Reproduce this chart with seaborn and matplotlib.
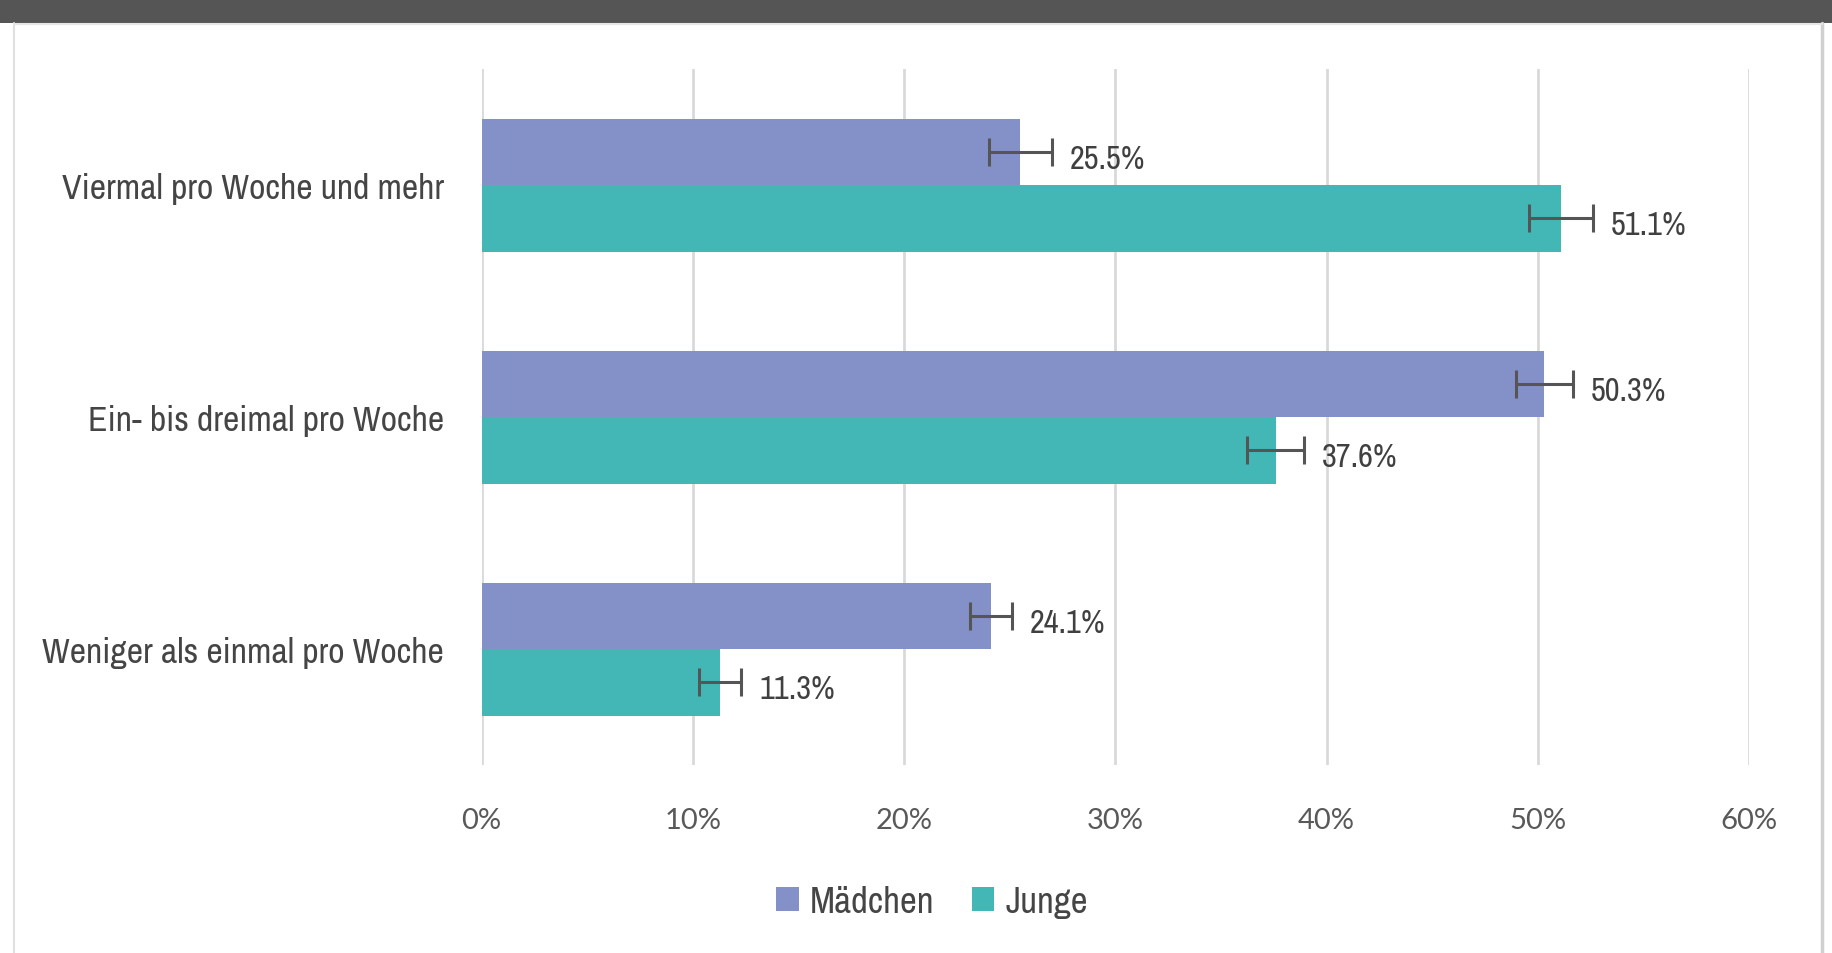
import matplotlib
matplotlib.use("Agg")
import matplotlib.pyplot as plt
from matplotlib import font_manager
from matplotlib.textpath import TextPath
from matplotlib.font_manager import FontProperties
import seaborn as sns
import pandas as pd
from matplotlib.patches import Rectangle, Patch
from matplotlib.lines import Line2D

categories = ["Viermal pro Woche und mehr", "Ein- bis dreimal pro Woche", "Weniger als einmal pro Woche"]
groups = ["Mädchen", "Junge"]
maedchen = [25.5, 50.3, 24.1]
junge = [51.1, 37.6, 11.3]
maedchen_err = [1.5, 1.35, 1.0]
junge_err = [1.5, 1.35, 1.0]
xticks = [0, 10, 20, 30, 40, 50, 60]
colors = {"Mädchen": "#8391C8", "Junge": "#43B7B5"}

entries = font_manager.fontManager.ttflist
cond = [f.name for f in entries if ("Condensed" in f.name or "Narrow" in f.name)]
main_font = sorted(cond)[0] if cond else "Lato"

sns.set_theme(style="white")
plt.rcParams['font.family'] = [main_font, 'DejaVu Sans']


def fit_size(text, target_px, family):
    tp = TextPath((0, 0), text, prop=FontProperties(family=family, size=100))
    w = tp.get_extents().width * 100 / 72
    return 100 * target_px / w


cat_fs = fit_size("Weniger als einmal pro Woche", 401, main_font)
val_fs = fit_size("25.5%", 73, main_font)
leg_fs = fit_size("Mädchen", 120, main_font)

rows = []
for c, m, j, me, je in zip(categories, maedchen, junge, maedchen_err, junge_err):
    rows.append({"cat": c, "group": "Mädchen", "val": m, "err": me})
    rows.append({"cat": c, "group": "Junge", "val": j, "err": je})
df = pd.DataFrame(rows)

fig = plt.figure(figsize=(18.33, 9.54), dpi=100)
ax = fig.add_axes([0.2627, 0.197, 0.9542 - 0.2627, 0.9266 - 0.197])

sns.barplot(data=df, y="cat", x="val", hue="group", order=categories, hue_order=groups,
            palette=colors, orient="h", width=0.573, gap=0, errorbar=None,
            saturation=1, ax=ax, legend=False, linewidth=0)

bars = [p for p in ax.patches if p.get_width() > 0]
for p in bars:
    w = p.get_width()
    yc = p.get_y() + p.get_height() / 2
    sub = df[(df["val"] - w).abs() < 1e-6].iloc[0]
    e = sub["err"]
    ax.errorbar(w, yc, xerr=e, fmt="none", ecolor="#555555", elinewidth=2.2,
                capsize=10, capthick=2.2, zorder=5)
    ax.text(w + e + 0.85, yc + 0.03, f"{w:.1f}%", va="center", ha="left",
            fontsize=val_fs, color="#404040")

ax.set_xlim(0, 60)
ax.set_ylim(2.5, -0.5)
ax.set_xticks(xticks)
ax.set_xticklabels([f"{t}%" for t in xticks], fontsize=21, color="#595959",
                   family=["Lato", "DejaVu Sans"])
ax.tick_params(axis="x", length=0, pad=30)
ax.tick_params(axis="y", length=0, pad=27)
for lab in ax.get_yticklabels():
    lab.set_fontsize(cat_fs)
    lab.set_color("#454545")
ax.set_xlabel("")
ax.set_ylabel("")
ax.grid(axis="x", color="#d9d9d9", linewidth=2.0)
ax.set_axisbelow(True)
for s in ax.spines.values():
    s.set_visible(False)

handles = [Patch(facecolor=colors[g], edgecolor="none") for g in groups]
fig.legend(handles, groups, loc="center", bbox_to_anchor=(0.5085, 0.054), ncol=2,
           frameon=False, fontsize=leg_fs, handlelength=0.62, handleheight=0.62,
           columnspacing=1.0, handletextpad=0.3, labelcolor="#454545")

fig.patches.append(Rectangle((0.0, 1 - 24 / 954), 1.0, 24 / 954, transform=fig.transFigure,
                             facecolor="#555555", edgecolor="none", zorder=0))
fig.lines.append(Line2D([14 / 1833, 14 / 1833], [0, 1 - 24 / 954], transform=fig.transFigure,
                        color="#e0e0e0", linewidth=1.5))
fig.lines.append(Line2D([1822 / 1833, 1822 / 1833], [0, 1 - 24 / 954], transform=fig.transFigure,
                        color="#d0d0d0", linewidth=2.5))
fig.lines.append(Line2D([14 / 1833, 1822 / 1833], [1 - 25 / 954, 1 - 25 / 954], transform=fig.transFigure,
                        color="#e6e6e6", linewidth=1.5))

fig.savefig("out.png", dpi=100)
